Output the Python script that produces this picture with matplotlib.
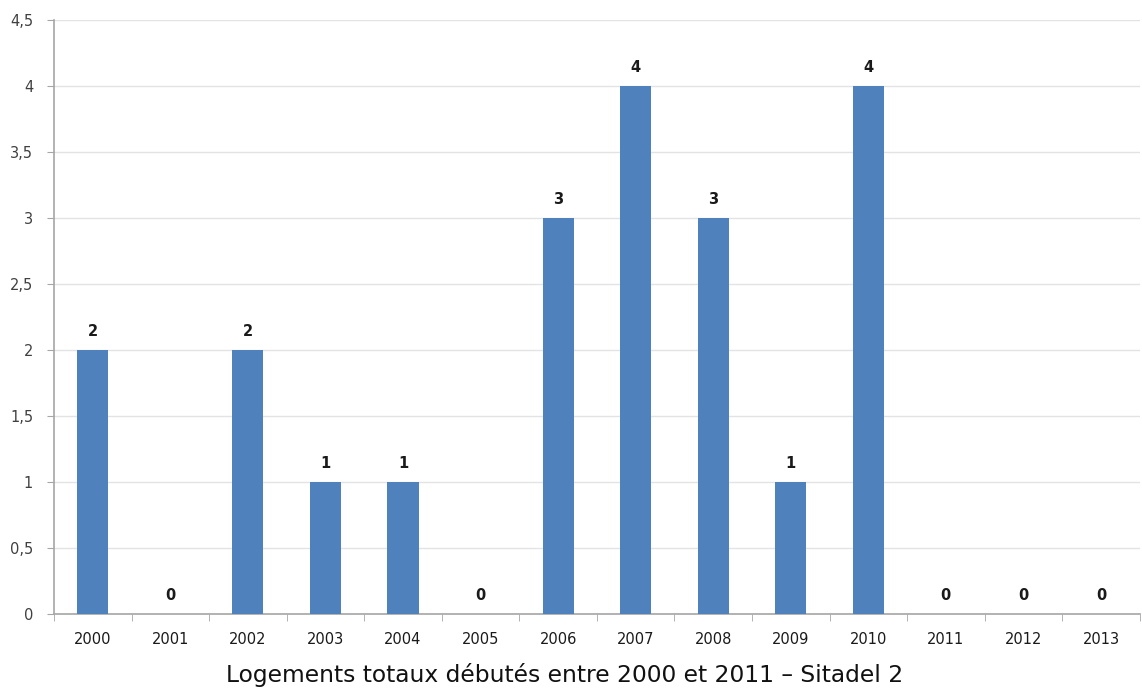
import matplotlib
matplotlib.use("Agg")
import matplotlib.pyplot as plt
from matplotlib.ticker import FixedLocator, FuncFormatter
import numpy as np

years = ["2000", "2001", "2002", "2003", "2004", "2005", "2006",
         "2007", "2008", "2009", "2010", "2011", "2012", "2013"]
logements = [2, 0, 2, 1, 1, 0, 3, 4, 3, 1, 4, 0, 0, 0]
caption = "Logements totaux débutés entre 2000 et 2011 – Sitadel 2"

bar_color = "#4F81BD"
grid_color = "#E3E3E3"
axis_color = "#A6A6A6"

fig = plt.figure(figsize=(11.42, 6.88), dpi=100)
ax = fig.add_axes([0.0473, 0.1076, 0.9507, 0.8634])

x = np.arange(len(years))
ax.bar(x, logements, width=0.4, color=bar_color, zorder=3)

for xi, v in zip(x, logements):
    ax.text(xi, v + 0.08, str(v), ha="center", va="bottom",
            fontsize=10.5, fontweight="bold", color="#1a1a1a", zorder=4)

ax.set_xlim(-0.5, len(years) - 0.5)
ax.set_ylim(0, 4.5)
ax.set_yticks(np.arange(0, 4.51, 0.5))
ax.yaxis.set_major_formatter(FuncFormatter(
    lambda v, p: ("%g" % v).replace(".", ",")))
ax.yaxis.grid(True, color=grid_color, linewidth=1, zorder=0)

ax.set_xticks(x)
ax.set_xticklabels(years)
ax.xaxis.set_minor_locator(FixedLocator(np.arange(-0.5, len(years), 1.0)))
ax.tick_params(axis="x", which="major", length=0, pad=13,
               labelsize=10.5, labelcolor="#1a1a1a")
ax.tick_params(axis="x", which="minor", length=5, color=axis_color,
               direction="out")
ax.tick_params(axis="y", length=5, color=axis_color, pad=10,
               labelsize=10.5, labelcolor="#404040")

for side in ("top", "right"):
    ax.spines[side].set_visible(False)
for side in ("left", "bottom"):
    ax.spines[side].set_color(axis_color)
    ax.spines[side].set_linewidth(1.2)

fig.text(0.494, 0.008, caption, ha="center", va="baseline",
         fontsize=16.8, color="#111111")

fig.savefig("out.png", dpi=100)
